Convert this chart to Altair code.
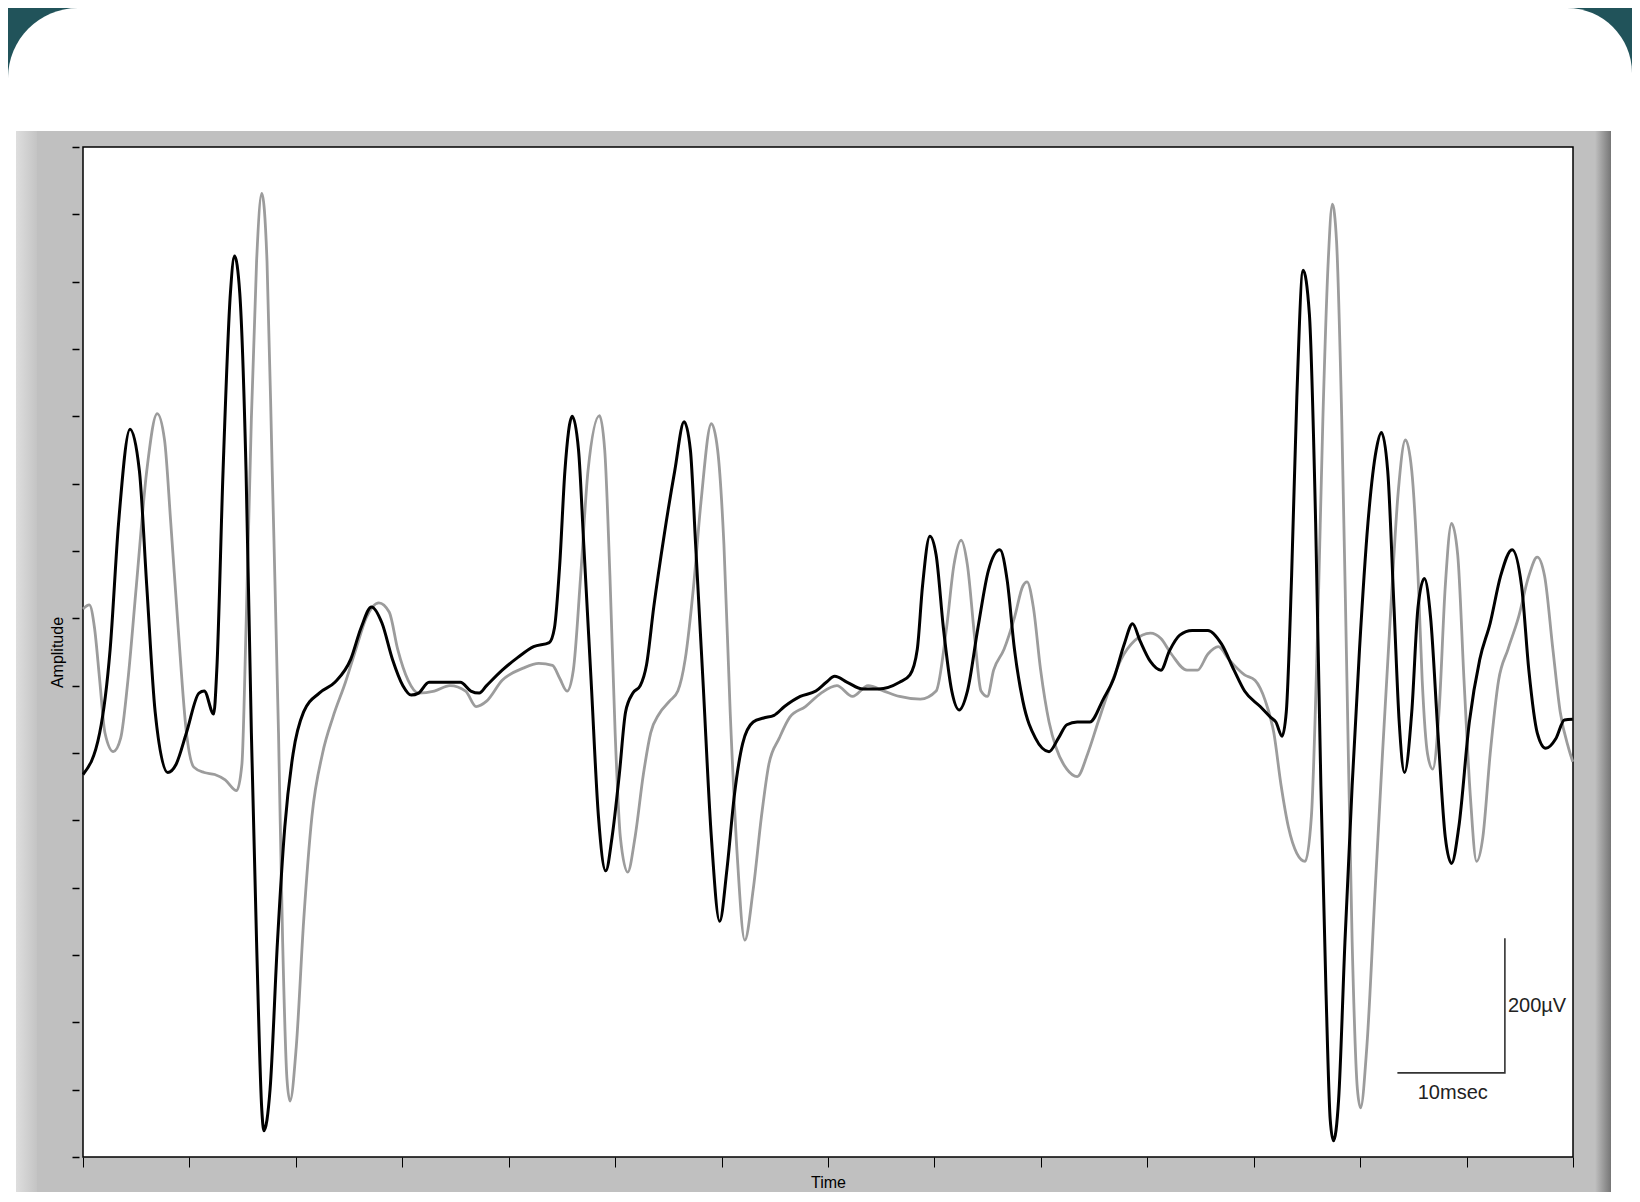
import altair as alt
import pandas as pd

# ---- data (time in ms, amplitude in µV) ----
black_trace = [
    (0.0, -132), (1.57, -70), (2.55, 54), (3.34, 241), (4.42, 381), (5.30, 319), (5.99, 148),
    (6.78, -39), (7.96, -129), (8.74, -117), (9.72, -70), (10.90, -11), (11.39, -8), (12.28, -42),
    (12.57, 23), (13.16, 319), (13.85, 583), (14.24, 638), (14.73, 583), (15.32, 319), (15.82, -70),
    (16.31, -381), (16.80, -630), (16.99, -661), (17.58, -599), (18.27, -381), (18.96, -210),
    (19.74, -101), (20.73, -39), (22.20, -11), (23.67, 5), (25.15, 39), (26.13, 86), (27.11, 117),
    (28.09, 93), (29.08, 39), (30.06, 0), (30.84, -14), (31.53, -11), (32.51, 5), (33.99, 5),
    (35.46, 5), (36.44, -8), (37.23, -11), (37.92, 0), (39.39, 23), (40.86, 42), (42.34, 58),
    (43.81, 64), (44.30, 86), (44.79, 179), (45.28, 319), (45.97, 400), (46.56, 350), (47.05, 210),
    (47.74, 8), (48.43, -194), (49.12, -275), (49.71, -225), (50.39, -132), (50.98, -39),
    (51.67, -11), (52.36, 0), (52.95, 31), (53.63, 117), (54.62, 225), (55.60, 319), (56.48, 392),
    (57.07, 350), (57.56, 210), (58.25, 8), (59.04, -225), (59.82, -350), (60.51, -272),
    (61.20, -163), (61.98, -86), (62.97, -54), (63.95, -48), (64.93, -44), (65.91, -31),
    (67.39, -16), (68.86, -8), (69.84, 5), (70.63, 14), (71.81, 5), (73.28, -5), (74.75, -5),
    (76.72, 5), (77.70, 16), (78.39, 54), (78.88, 148), (79.57, 222), (80.16, 194), (80.84, 86),
    (81.63, -8), (82.32, -36), (83.10, -8), (84.09, 86), (85.07, 171), (86.15, 202), (86.84, 156),
    (87.52, 54), (88.31, -23), (89.49, -78), (90.77, -98), (91.65, -78), (92.44, -58), (93.42, -54),
    (94.60, -54), (95.87, -20), (96.86, 11), (97.84, 62), (98.62, 92), (99.31, 67), (100.29, 36),
    (101.28, 23), (102.06, 51), (103.05, 75), (104.22, 82), (105.70, 82), (106.97, 62),
    (108.15, 23), (109.14, -8), (110.61, -31), (111.59, -47), (112.08, -54), (112.67, -75),
    (113.06, -39), (113.56, 163), (114.05, 428), (114.64, 617), (115.23, 552), (115.82, 241),
    (116.31, -148), (116.80, -459), (117.19, -645), (117.49, -676), (117.98, -614), (118.57, -381),
    (119.25, -148), (119.94, 54), (120.73, 241), (121.51, 350), (122.00, 376), (122.59, 319),
    (123.18, 117), (123.67, -54), (124.17, -129), (124.85, -39), (125.44, 117), (126.03, 159),
    (126.62, 101), (127.31, -70), (128.00, -225), (128.59, -264), (129.27, -210), (130.26, -54),
    (131.24, 39), (132.22, 93), (133.20, 163), (134.28, 202), (135.17, 148), (135.85, 23),
    (136.64, -70), (137.43, -93), (138.41, -78), (139.19, -51), (139.98, -50),
]

gray_trace = [
    (0.0, 114), (0.59, 120), (1.08, 86), (1.57, 8), (2.06, -70), (2.85, -98), (3.54, -78),
    (4.22, 8), (5.01, 148), (5.99, 319), (6.97, 404), (7.66, 365), (8.25, 241), (8.94, 86),
    (9.72, -70), (10.41, -121), (11.39, -129), (12.38, -132), (13.36, -140), (14.44, -156),
    (14.93, -117), (15.32, 86), (15.82, 397), (16.31, 630), (16.80, 731), (17.29, 630),
    (17.78, 319), (18.37, -70), (18.76, -381), (19.16, -583), (19.45, -617), (20.04, -536),
    (20.73, -350), (21.51, -194), (22.50, -101), (23.48, -47), (24.66, 5), (25.64, 54),
    (26.62, 101), (27.80, 123), (28.78, 109), (29.57, 54), (30.55, 8), (31.53, -11), (33.01, -8),
    (34.48, 0), (35.95, -8), (36.94, -31), (37.92, -23), (39.39, 8), (41.36, 26), (42.83, 33),
    (44.11, 30), (44.79, 11), (45.48, -8), (46.07, 23), (46.76, 163), (47.45, 319), (48.53, 401),
    (49.02, 350), (49.51, 163), (50.00, -70), (50.49, -225), (51.18, -277), (51.87, -225),
    (52.65, -132), (53.34, -70), (54.13, -42), (55.11, -23), (55.89, -8), (56.58, 39),
    (57.37, 148), (58.06, 272), (59.04, 389), (59.63, 350), (60.22, 210), (60.81, -39),
    (61.49, -257), (62.18, -378), (62.97, -303), (63.75, -194), (64.44, -117), (65.42, -78),
    (66.40, -47), (67.88, -31), (69.35, -11), (70.83, 0), (72.30, -16), (73.77, 0), (75.25, -8),
    (76.72, -16), (78.68, -20), (80.16, -8), (81.14, 86), (81.83, 179), (82.51, 216), (83.10, 179),
    (83.79, 70), (84.38, -8), (84.97, -16), (85.56, 23), (86.54, 54), (87.52, 101), (88.31, 148),
    (88.70, 154), (89.29, 117), (89.98, 23), (90.77, -54), (91.45, -93), (92.44, -124),
    (93.42, -135), (94.40, -101), (95.38, -54), (96.37, -8), (97.54, 39), (98.82, 67),
    (100.29, 78), (101.28, 70), (102.26, 47), (103.73, 23), (104.72, 23), (105.70, 47),
    (106.68, 58), (107.66, 39), (109.14, 16), (110.12, 8), (111.10, -23), (111.89, -70),
    (112.57, -148), (113.26, -210), (114.05, -249), (114.83, -261), (115.42, -194), (116.01, 86),
    (116.50, 397), (117.00, 630), (117.39, 715), (117.78, 661), (118.27, 397), (118.76, 8),
    (119.25, -381), (119.74, -599), (120.04, -627), (120.63, -536), (121.41, -303), (122.10, -101),
    (122.89, 117), (123.58, 288), (124.26, 365), (124.85, 319), (125.44, 163), (125.83, 8),
    (126.33, -101), (126.82, -124), (127.41, -39), (128.00, 148), (128.59, 241), (129.17, 194),
    (129.76, 8), (130.35, -163), (130.94, -261), (131.53, -225), (132.22, -101), (133.01, 8),
    (133.89, 54), (134.87, 101), (135.85, 163), (136.64, 191), (137.33, 163), (138.11, 54),
    (138.80, -39), (139.59, -93), (139.98, -113),
]

x_ticks = list(range(0, 141, 10))
y_ticks = list(range(-700, 801, 100))
x_domain = [0, 140]
y_domain = [-700, 800]

# calibration bar: 10 ms x 200 µV
bar_t = [133.6, 133.6, 123.5]
bar_v = [-375, -575, -575]
amp_label = "200µV"
amp_label_pos = (133.6, -475)
time_label = "10msec"
time_label_pos = (128.7, -605)

# ---- layout ----
W, H = 1490, 1010
FONT = "Liberation Sans"

xs = alt.Scale(domain=x_domain, nice=False, zero=False)
ys = alt.Scale(domain=y_domain, nice=False, zero=False)

xaxis = alt.Axis(values=x_ticks, labels=False, grid=False, domain=False, ticks=True,
                 tickSize=10, tickColor="black", tickWidth=1, title="Time",
                 titleFont=FONT, titleFontSize=16, titleFontWeight="normal",
                 titleColor="black", titleY=25, titleBaseline="middle", zindex=1)
yaxis = alt.Axis(values=y_ticks, labels=False, grid=False, domain=False, ticks=True,
                 tickSize=7, offset=4, tickColor="black", tickWidth=1.5, title="Amplitude",
                 titleFont=FONT, titleFontSize=16, titleFontWeight="normal",
                 titleColor="black", titleX=-22, titleY=H / 2, titleAngle=270,
                 titleAlign="center", titleBaseline="middle", zindex=1)

X = alt.X("t:Q", scale=xs, axis=xaxis)
Y = alt.Y("v:Q", scale=ys, axis=yaxis)

one = pd.DataFrame({"k": [0]})

card = alt.Chart(one).mark_rect(color="white", cornerRadiusTopLeft=70,
                                cornerRadiusTopRight=65).encode(
    x=alt.value(-75), x2=alt.value(W + 59), y=alt.value(-139), y2=alt.value(H + 37))

panel = alt.Chart(one).mark_rect(color="#c0c0c0").encode(
    x=alt.value(-67), x2=alt.value(W + 38), y=alt.value(-16), y2=alt.value(H + 35))

left_shade = alt.Chart(one).mark_rect(
    color=alt.Gradient(gradient="linear", x1=0, x2=1, y1=0, y2=0,
                       stops=[alt.GradientStop(color="#dedede", offset=0),
                              alt.GradientStop(color="#c4c4c4", offset=1)])).encode(
    x=alt.value(-67), x2=alt.value(-46), y=alt.value(-16), y2=alt.value(H + 35))

right_shade = alt.Chart(one).mark_rect(
    color=alt.Gradient(gradient="linear", x1=0, x2=1, y1=0, y2=0,
                       stops=[alt.GradientStop(color="#c0c0c0", offset=0),
                              alt.GradientStop(color="#767676", offset=1)])).encode(
    x=alt.value(W + 22), x2=alt.value(W + 38), y=alt.value(-16), y2=alt.value(H + 35))

plot_bg = alt.Chart(one).mark_rect(fill="white", stroke="black", strokeWidth=1.5).encode(
    x=alt.value(0), x2=alt.value(W), y=alt.value(0), y2=alt.value(H))

gray_df = pd.DataFrame(gray_trace, columns=["t", "v"])
black_df = pd.DataFrame(black_trace, columns=["t", "v"])

gray_line = alt.Chart(gray_df).mark_line(color="#9c9c9c", strokeWidth=2.8,
                                         interpolate="monotone").encode(x=X, y=Y)
black_line = alt.Chart(black_df).mark_line(color="#000000", strokeWidth=3.0,
                                           interpolate="monotone").encode(x=X, y=Y)

bar_df = pd.DataFrame({"t": bar_t, "v": bar_v, "o": [0, 1, 2]})
scale_bar = alt.Chart(bar_df).mark_line(color="#333333", strokeWidth=1.6).encode(
    x=X, y=Y, order="o:Q")

amp_df = pd.DataFrame({"t": [amp_label_pos[0]], "v": [amp_label_pos[1]], "s": [amp_label]})
amp_text = alt.Chart(amp_df).mark_text(align="left", baseline="middle", dx=3, font=FONT,
                                       fontSize=20, color="#222222").encode(
    x=X, y=Y, text="s:N")

time_df = pd.DataFrame({"t": [time_label_pos[0]], "v": [time_label_pos[1]], "s": [time_label]})
time_text = alt.Chart(time_df).mark_text(align="center", baseline="middle", font=FONT,
                                         fontSize=20, color="#222222").encode(
    x=X, y=Y, text="s:N")

chart = alt.layer(
    card, panel, left_shade, right_shade, plot_bg,
    gray_line, black_line, scale_bar, amp_text, time_text,
).properties(
    width=W, height=H,
    padding={"left": 75, "top": 139, "right": 59, "bottom": 37},
    autosize=alt.AutoSizeParams(type="none"),
).configure(
    background="#21535a", font=FONT,
).configure_view(strokeWidth=0)

chart.save("out.html", embed_options={"renderer": "svg", "actions": False})
